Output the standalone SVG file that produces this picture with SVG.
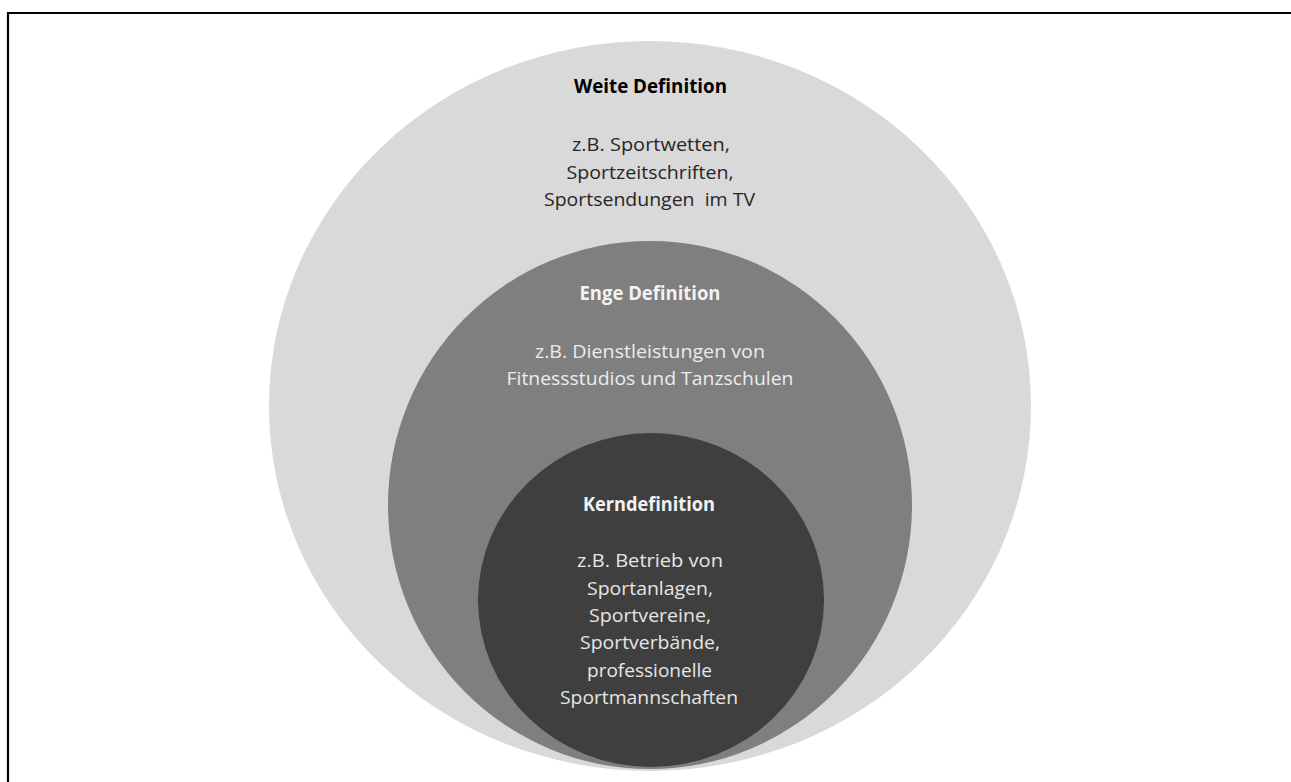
<svg xmlns="http://www.w3.org/2000/svg" width="1291" height="782" viewBox="0 0 1291 782">
<style>
  text { font-family: "Open Sans", "Liberation Sans", sans-serif; font-size: 19px; text-anchor: middle; }
  .title { font-weight: bold; }
  .t-outer { fill: #000000; }
  .b-outer { fill: #262626; }
  .t-light { fill: #f2f2f2; }
  .b-mid { fill: #ececec; }
  .b-inner { fill: #e6e6e6; }
</style>
<rect x="0" y="0" width="1291" height="782" fill="#ffffff"/>
<path d="M8,782 V13 H1291" fill="none" stroke="#000000" stroke-width="2.2"/>
<g id="weite-definition">
  <ellipse cx="650" cy="406" rx="381" ry="365" fill="#d9d9d9"/>
  <text class="title t-outer" x="650.5" y="93" textLength="153" lengthAdjust="spacingAndGlyphs">Weite Definition</text>
  <text class="b-outer" x="651" y="151" textLength="158" lengthAdjust="spacingAndGlyphs">z.B. Sportwetten,</text>
  <text class="b-outer" x="650" y="178.5" textLength="167" lengthAdjust="spacingAndGlyphs">Sportzeitschriften,</text>
  <text class="b-outer" x="649.5" y="206" textLength="211" lengthAdjust="spacingAndGlyphs" xml:space="preserve">Sportsendungen  im TV</text>
</g>
<g id="enge-definition">
  <ellipse cx="650" cy="505" rx="262" ry="264" fill="#7f7f7f"/>
  <text class="title t-light" x="650" y="300" textLength="141" lengthAdjust="spacingAndGlyphs">Enge Definition</text>
  <text class="b-mid" x="650" y="358" textLength="230" lengthAdjust="spacingAndGlyphs">z.B. Dienstleistungen von</text>
  <text class="b-mid" x="650" y="385" textLength="287" lengthAdjust="spacingAndGlyphs">Fitnessstudios und Tanzschulen</text>
</g>
<g id="kerndefinition">
  <ellipse cx="651" cy="600" rx="173" ry="167" fill="#3f3f3f"/>
  <text class="title t-light" x="649" y="511" textLength="132" lengthAdjust="spacingAndGlyphs">Kerndefinition</text>
  <text class="b-inner" x="650" y="567" textLength="146" lengthAdjust="spacingAndGlyphs">z.B. Betrieb von</text>
  <text class="b-inner" x="650" y="594.5" textLength="126" lengthAdjust="spacingAndGlyphs">Sportanlagen,</text>
  <text class="b-inner" x="650" y="622" textLength="122" lengthAdjust="spacingAndGlyphs">Sportvereine,</text>
  <text class="b-inner" x="650" y="649" textLength="140" lengthAdjust="spacingAndGlyphs">Sportverbände,</text>
  <text class="b-inner" x="649.5" y="676.5" textLength="125" lengthAdjust="spacingAndGlyphs">professionelle</text>
  <text class="b-inner" x="649" y="704" textLength="178" lengthAdjust="spacingAndGlyphs">Sportmannschaften</text>
</g>
<g id="connectors"/>
</svg>
